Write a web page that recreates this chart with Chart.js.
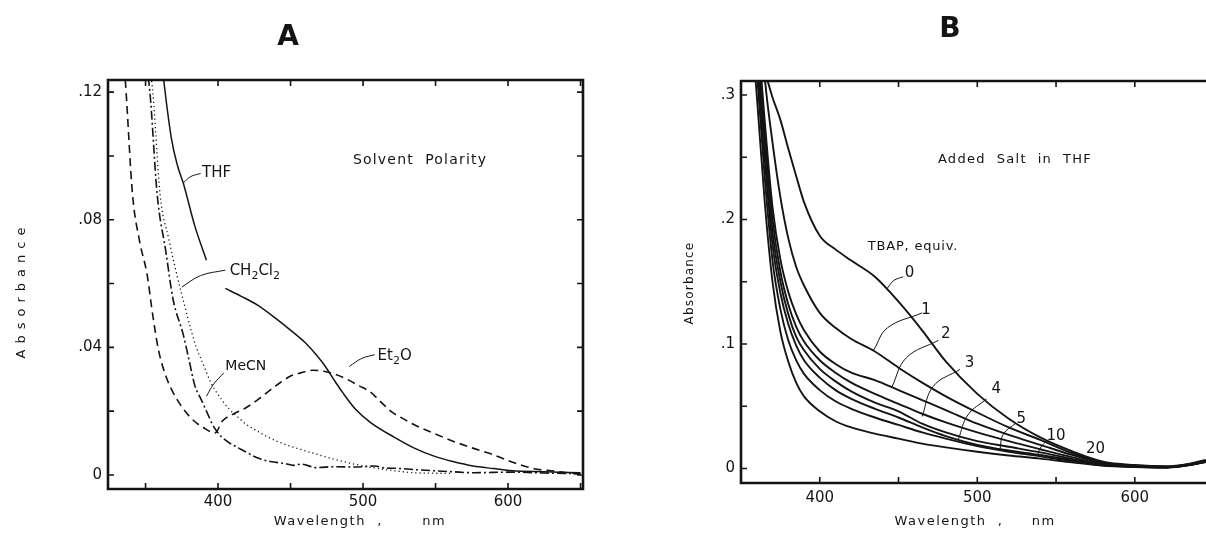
<!DOCTYPE html>
<html>
<head>
<meta charset="utf-8">
<script src="https://cdn.jsdelivr.net/npm/chart.js@4.4.0/dist/chart.umd.min.js"></script>
<style>
  html, body { margin: 0; padding: 0; background: #fff; overflow: hidden; }
  #wrapA { position: absolute; left: 0; top: 0; width: 600px; height: 550px; }
  #wrapB { position: absolute; left: 640px; top: 0; width: 566px; height: 550px; }
</style>
</head>
<body>
<div id="wrapA"><canvas id="chartA" width="600" height="550"></canvas></div>
<div id="wrapB"><canvas id="chartB" width="566" height="550"></canvas></div>
<script>
// ---- panel A : solvent polarity ----
var thfNm  = [360, 363, 368, 372, 376, 384, 392, 399, 405, 416, 427, 440, 451, 460, 468, 474, 480, 486, 495, 505, 522, 535, 549, 562, 576, 590, 603, 625, 650]
var thfAbs = [0.135, 0.122, 0.105, 0.097, 0.0915, 0.078, 0.0673, null, 0.0585, 0.056, 0.0533, 0.049, 0.045, 0.0415, 0.0375, 0.034, 0.0298, 0.0258, 0.0205, 0.0165, 0.0117, 0.0085, 0.0059, 0.0042, 0.0028, 0.002, 0.0013, 0.001, 0.0007]

var et2oNm  = [333, 336, 341, 346, 351, 355, 359, 364, 370, 381, 390, 398, 403, 410, 419, 430, 440, 450, 457, 465, 473, 481, 489, 497, 505, 512, 519, 527, 535, 548, 562, 575, 589, 600, 611, 620, 630, 650]
var et2oAbs = [0.14, 0.124, 0.088, 0.073, 0.063, 0.05, 0.039, 0.031, 0.025, 0.018, 0.0148, 0.0132, 0.0169, 0.019, 0.021, 0.0245, 0.028, 0.031, 0.032, 0.0328, 0.0325, 0.0315, 0.030, 0.028, 0.026, 0.023, 0.020, 0.0178, 0.0158, 0.0132, 0.0106, 0.0085, 0.0065, 0.0045, 0.0028, 0.0018, 0.0013, 0.0002]

var mecnNm  = [350, 353, 358, 364, 369, 376, 380, 384, 388, 392, 396, 399, 403, 408, 414, 420, 427, 436, 446, 452, 457, 468, 480, 495, 508, 515, 522, 535, 549, 562, 576, 590, 603, 625, 650]
var mecnAbs = [0.13, 0.12, 0.088, 0.07, 0.055, 0.044, 0.036, 0.028, 0.024, 0.020, 0.016, 0.0138, 0.0117, 0.010, 0.0085, 0.007, 0.0054, 0.0042, 0.0036, 0.003, 0.0034, 0.0023, 0.0026, 0.0025, 0.0028, 0.0022, 0.0021, 0.0017, 0.0013, 0.001, 0.0007, 0.0008, 0.0009, 0.0006, 0.0004]

var dcmNm  = [352, 355, 360, 366, 372, 377, 381, 385, 389, 395, 400, 407, 414, 420, 427, 436, 446, 457, 468, 481, 495, 508, 522, 535, 560]
var dcmAbs = [0.13, 0.12, 0.088, 0.074, 0.062, 0.053, 0.046, 0.040, 0.0356, 0.029, 0.0252, 0.021, 0.018, 0.0157, 0.0138, 0.0115, 0.0096, 0.008, 0.0065, 0.0048, 0.0033, 0.0022, 0.0013, 0.0007, 0.0005]

var aTickX = [400, 500, 600]
var aTickY = [0, 0.04, 0.08, 0.12]
var aMarkX = [350, 400, 450, 500, 550, 600, 650]
var aMarkY = [0, 0.02, 0.04, 0.06, 0.08, 0.10, 0.12]

// ---- panel B : added salt (TBAP equiv.) in THF ----
var bNm = [355, 360, 365, 370, 375, 380, 385, 390, 400, 410, 420, 435, 450, 465, 480, 500, 520, 540, 560, 580, 600, 620, 635, 645]
var b0  = [0.52, 0.34, 0.318, 0.298, 0.280, 0.257, 0.235, 0.214, 0.187, 0.176, 0.167, 0.154, 0.134, 0.111, 0.086, 0.060, 0.040, 0.025, 0.014, 0.0055, 0.0028, 0.0018, 0.004, 0.007]
var b1  = [0.48, 0.40, 0.315, 0.262, 0.218, 0.185, 0.162, 0.147, 0.125, 0.113, 0.104, 0.094, 0.081, 0.069, 0.058, 0.045, 0.033, 0.023, 0.0125, 0.0048, 0.0022, 0.0014, 0.0037, 0.0066]
var b2  = [0.44, 0.36, 0.28, 0.21, 0.168, 0.142, 0.124, 0.111, 0.094, 0.084, 0.077, 0.071, 0.063, 0.055, 0.047, 0.036, 0.027, 0.019, 0.011, 0.0042, 0.002, 0.0012, 0.0034, 0.0062]
var b3  = [0.43, 0.35, 0.27, 0.20, 0.158, 0.132, 0.114, 0.102, 0.087, 0.077, 0.069, 0.060, 0.052, 0.044, 0.037, 0.029, 0.022, 0.0155, 0.0092, 0.0036, 0.0017, 0.0011, 0.0032, 0.006]
var b4  = [0.42, 0.34, 0.26, 0.19, 0.150, 0.124, 0.106, 0.095, 0.080, 0.070, 0.062, 0.053, 0.046, 0.036, 0.029, 0.022, 0.0175, 0.013, 0.0078, 0.0032, 0.0016, 0.001, 0.003, 0.0058]
var b5  = [0.41, 0.33, 0.25, 0.18, 0.141, 0.116, 0.099, 0.087, 0.073, 0.063, 0.056, 0.048, 0.041, 0.033, 0.026, 0.019, 0.0145, 0.011, 0.0068, 0.0029, 0.0015, 0.001, 0.003, 0.0056]
var b10 = [0.40, 0.32, 0.235, 0.167, 0.128, 0.103, 0.087, 0.076, 0.063, 0.054, 0.048, 0.041, 0.035, 0.029, 0.024, 0.018, 0.0135, 0.0098, 0.006, 0.0026, 0.0014, 0.0009, 0.003, 0.0055]
var b20 = [0.38, 0.30, 0.215, 0.150, 0.110, 0.086, 0.069, 0.058, 0.046, 0.038, 0.033, 0.028, 0.024, 0.020, 0.017, 0.0135, 0.0105, 0.008, 0.005, 0.0022, 0.0012, 0.0008, 0.0028, 0.0053]
var bEquiv = ['0', '1', '2', '3', '4', '5', '10', '20']

var bTickX = [400, 500, 600]
var bTickY = [0, 0.1, 0.2, 0.3]
var bMarkX = [350, 400, 450, 500, 550, 600]
var bMarkY = [0, 0.05, 0.1, 0.15, 0.2, 0.25, 0.3]

var FAMILY = '"DejaVu Sans", "Liberation Sans", sans-serif'
var INK = '#141414'

function pts(xs, ys) {
    return xs.map(function (x, i) { return { x: x, y: ys[i] } })
}

function curve(xs, ys, dash, width) {
    return {
        data: pts(xs, ys),
        borderColor: INK,
        borderWidth: width || 1.6,
        borderDash: dash || [],
        pointRadius: 0,
        cubicInterpolationMode: 'monotone',
        spanGaps: false
    }
}

function leader(xs, ys) {
    return {
        data: pts(xs, ys),
        borderColor: INK,
        borderWidth: 1,
        pointRadius: 0,
        tension: 0.4
    }
}

function font(size, bold) {
    return (bold ? 'bold ' : '') + size + 'px ' + FAMILY
}

// inward tick marks and the frame
var frame = {
    id: 'frame',
    afterDatasetsDraw: function (chart, args, o) {
        var ctx = chart.ctx, a = chart.chartArea
        var xs = chart.scales.x, ys = chart.scales.y
        ctx.save()
        ctx.strokeStyle = INK
        ctx.lineWidth = 1.6
        ctx.beginPath()
        o.xMarks.forEach(function (v) {
            var px = xs.getPixelForValue(v)
            ctx.moveTo(px, a.bottom); ctx.lineTo(px, a.bottom - 6)
            ctx.moveTo(px, a.top); ctx.lineTo(px, a.top + 6)
        })
        o.yMarks.forEach(function (v) {
            var py = ys.getPixelForValue(v)
            ctx.moveTo(a.left, py); ctx.lineTo(a.left + 6, py)
            if (o.right) { ctx.moveTo(a.right, py); ctx.lineTo(a.right - 6, py) }
        })
        ctx.stroke()
        ctx.lineWidth = 2.6
        ctx.beginPath()
        if (o.right) {
            ctx.rect(a.left, a.top, a.right - a.left, a.bottom - a.top)
        } else {
            ctx.moveTo(a.right + 3, a.top); ctx.lineTo(a.left, a.top)
            ctx.lineTo(a.left, a.bottom); ctx.lineTo(a.right + 3, a.bottom)
        }
        ctx.stroke()
        ctx.restore()
    }
}

// text labels (data coords unless px is set)
var notes = {
    id: 'notes',
    afterDraw: function (chart, args, o) {
        var ctx = chart.ctx, xs = chart.scales.x, ys = chart.scales.y
        o.items.forEach(function (it) {
            var x = it.px ? it.x : xs.getPixelForValue(it.x)
            var y = it.px ? it.y : ys.getPixelForValue(it.y)
            var segs = typeof it.t === 'string' ? [[it.t, 0]] : it.t
            ctx.save()
            ctx.translate(x, y)
            if (it.rot) ctx.rotate(it.rot)
            ctx.fillStyle = INK
            ctx.textBaseline = 'middle'
            ctx.textAlign = 'left'
            ctx.letterSpacing = (it.sp || 0) + 'px'
            var w = 0
            segs.forEach(function (s) {
                ctx.font = font(s[1] ? Math.round(it.size * 0.72) : it.size, it.bold)
                w += ctx.measureText(s[0]).width
            })
            var cx = it.align === 'center' ? -w / 2 : (it.align === 'right' ? -w : 0)
            segs.forEach(function (s) {
                ctx.font = font(s[1] ? Math.round(it.size * 0.72) : it.size, it.bold)
                ctx.fillText(s[0], cx, s[1] ? it.size * 0.34 : 0)
                cx += ctx.measureText(s[0]).width
            })
            ctx.restore()
        })
    }
}

function panelOptions(p) {
    return {
        responsive: false,
        animation: false,
        devicePixelRatio: 1,
        layout: { padding: p.pad },
        plugins: {
            legend: { display: false },
            tooltip: { enabled: false },
            frame: { xMarks: p.markX, yMarks: p.markY, right: p.right },
            notes: { items: p.notes }
        },
        scales: {
            x: {
                type: 'linear', min: p.xMin, max: p.xMax,
                grid: { display: false, drawTicks: false },
                border: { display: false },
                afterBuildTicks: function (s) { s.ticks = p.tickX.map(function (v) { return { value: v } }) },
                afterFit: function (s) { s.height = p.xH },
                ticks: { color: INK, font: { family: FAMILY, size: 15 }, padding: p.xPad, maxRotation: 0, autoSkip: false }
            },
            y: {
                type: 'linear', min: p.yMin, max: p.yMax,
                grid: { display: false, drawTicks: false },
                border: { display: false },
                afterBuildTicks: function (s) { s.ticks = p.tickY.map(function (v) { return { value: v } }) },
                afterFit: function (s) { s.width = p.yW },
                ticks: { color: INK, font: { family: FAMILY, size: 15 }, padding: 6, autoSkip: false, callback: p.fmt }
            }
        }
    }
}

function renderPanelA() {
    var datasets = [
        curve(thfNm, thfAbs, [], 1.5),
        curve(et2oNm, et2oAbs, [8, 5], 1.6),
        curve(mecnNm, mecnAbs, [9, 3, 2, 3], 1.6),
        curve(dcmNm, dcmAbs, [1.2, 3], 1.3),
        leader([376, 381, 388], [0.0915, 0.0935, 0.0945]),
        leader([375, 388, 405], [0.0589, 0.0625, 0.0642]),
        leader([392, 397, 404], [0.0247, 0.0285, 0.032]),
        leader([490.5, 499, 508], [0.034, 0.0365, 0.0377])
    ]
    new Chart(document.getElementById('chartA'), {
        type: 'line',
        data: { datasets: datasets },
        options: panelOptions({
            pad: { top: 80, right: 17, bottom: 0, left: 0 },
            xMin: 324.1, xMax: 651.7, yMin: -0.0044, yMax: 0.1238,
            xH: 61, yW: 108, xPad: 4, right: true,
            tickX: aTickX, tickY: aTickY, markX: aMarkX, markY: aMarkY,
            fmt: function (v) { return v === 0 ? '0' : v.toFixed(2).replace('0.', '.') },
            notes: [
                { t: 'A', px: true, x: 288, y: 38, size: 28, bold: true, align: 'center' },
                { t: 'Solvent  Polarity', x: 493, y: 0.0987, size: 14, sp: 1.2 },
                { t: 'THF', x: 389, y: 0.0946, size: 15 },
                { t: [['CH', 0], ['2', 1], ['Cl', 0], ['2', 1]], x: 408, y: 0.064, size: 15 },
                { t: 'MeCN', x: 405, y: 0.034, size: 14 },
                { t: [['Et', 0], ['2', 1], ['O', 0]], x: 510, y: 0.0372, size: 15 },
                { t: 'Wavelength  ,       nm', px: true, x: 360, y: 522, size: 13, sp: 1.5, align: 'center' },
                { t: 'Absorbance', px: true, x: 22, y: 290, size: 13, sp: 6, align: 'center', rot: -Math.PI / 2 }
            ]
        }),
        plugins: [frame, notes]
    })
}

function renderPanelB() {
    var series = [b0, b1, b2, b3, b4, b5, b10, b20]
    var datasets = series.map(function (s) { return curve(bNm, s, [], 1.9) })
    datasets.push(leader([443, 447, 453], [0.145, 0.151, 0.154]))
    datasets.push(leader([434.3, 443, 465], [0.0953, 0.113, 0.125]))
    datasets.push(leader([445.7, 455, 475.4], [0.0653, 0.089, 0.103]))
    datasets.push(leader([465, 472, 489], [0.0418, 0.066, 0.0796]))
    datasets.push(leader([488, 494, 506], [0.0235, 0.043, 0.056]))
    datasets.push(leader([514.3, 516.5, 524.6], [0.0144, 0.0275, 0.0366]))
    datasets.push(leader([538.3, 540, 544], [0.0104, 0.0165, 0.0222]))
    var labelAt = [[457, 0.157], [467.4, 0.127], [480, 0.108], [495, 0.085], [512, 0.064], [528, 0.040], [550, 0.026], [575, 0.0157]]
    var items = [
        { t: 'B', px: true, x: 310, y: 30, size: 28, bold: true, align: 'center' },
        { t: 'Added  Salt  in  THF', x: 475, y: 0.248, size: 13, sp: 1.3 },
        { t: 'TBAP, equiv.', x: 430.5, y: 0.178, size: 13, sp: 0.8 },
        { t: 'Wavelength  ,     nm', px: true, x: 335, y: 522, size: 13, sp: 1.5, align: 'center' },
        { t: 'Absorbance', px: true, x: 50, y: 283, size: 12, sp: 1.2, align: 'center', rot: -Math.PI / 2 }
    ]
    bEquiv.forEach(function (lab, i) {
        items.push({ t: lab, x: labelAt[i][0], y: labelAt[i][1], size: 15, align: 'center' })
    })
    new Chart(document.getElementById('chartB'), {
        type: 'line',
        data: { datasets: datasets },
        options: panelOptions({
            pad: { top: 81, right: 0, bottom: 0, left: 0 },
            xMin: 350, xMax: 645.2, yMin: -0.0116, yMax: 0.3112,
            xH: 67, yW: 101, xPad: 6, right: false,
            tickX: bTickX, tickY: bTickY, markX: bMarkX, markY: bMarkY,
            fmt: function (v) { return v === 0 ? '0' : v.toFixed(1).replace('0.', '.') },
            notes: items
        }),
        plugins: [frame, notes]
    })
}

renderPanelA()
renderPanelB()
</script>
</body>
</html>
